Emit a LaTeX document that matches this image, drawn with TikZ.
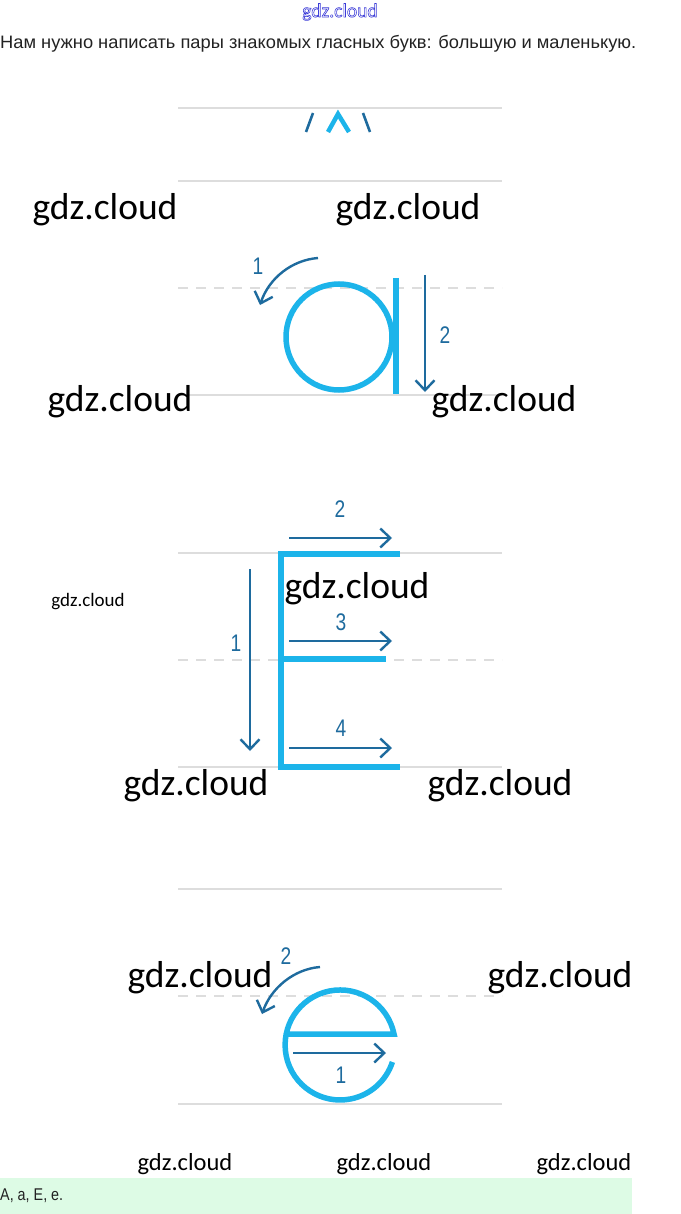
\documentclass[tikz,border=0pt]{standalone}
\usepackage{fontspec}
\setmainfont{Carlito}
\newfontfamily\labfont{Liberation Sans}
\usetikzlibrary{arrows.meta}
\definecolor{cy}{HTML}{1CB4EA}
\definecolor{db}{HTML}{1E6B9E}
\definecolor{gl}{HTML}{DDDDDD}
\definecolor{mint}{HTML}{DDFBE5}
\definecolor{txt}{HTML}{222222}
\definecolor{wmblue}{HTML}{3C3CD8}
\newcommand{\outlinetext}[1]{\special{pdf:literal direct 1 Tr 0.6 w}#1\special{pdf:literal direct 0 Tr}}
\begin{document}
\begin{tikzpicture}[x=1pt,y=-1pt,
  guide/.style={gl,line width=2.5pt},
  guidedash/.style={guide,dash pattern=on 10pt off 8pt},
  letter/.style={cy,line width=5.5pt},
  stroke/.style={db,line width=2.4pt,-{Straight Barb[length=10pt,width=19pt]}},
  plain/.style={db,line width=2.6pt},
  num/.style={db,inner sep=0pt,font=\labfont\fontsize{24}{26}\selectfont},
  wm/.style={black,inner sep=0pt,font=\fontsize{37.5}{40}\selectfont},
  wms/.style={black,inner sep=0pt,font=\fontsize{24.5}{26}\selectfont},
  wmt/.style={black,inner sep=0pt,font=\fontsize{19}{20}\selectfont},
]
\useasboundingbox[fill=white] (0,0) rectangle (680,1214);

% header
\node[inner sep=0pt,text=wmblue,font=\fontsize{19.5}{20}\selectfont] (hdr) at (340,12) {\outlinetext{gdz.cloud}};
\node[inner sep=0pt,anchor=west,text=txt,font=\labfont\fontsize{18}{20}\selectfont] (task) at (0,44)
  {\resizebox{636pt}{\height}{Нам нужно написать пары знакомых гласных букв: большую и маленькую.}};

% guide lines
\draw[guide] (178,108) -- (502,108);
\draw[guide] (178,181) -- (502,181);
\draw[guidedash] (178,288) -- (502,288);
\draw[guide] (178,395) -- (502,395);
\draw[guide] (178,553) -- (502,553);
\draw[guidedash] (178,660) -- (502,660);
\draw[guide] (178,767) -- (502,767);
\draw[guide] (178,889) -- (502,889);
\draw[guidedash] (178,996) -- (502,996);
\draw[guide] (178,1104) -- (502,1104);

% A fragment
\draw[plain] (306,132) -- (313,113);
\draw[cy,line width=4.5pt,line join=miter] (328,132) -- (338,114) -- (349,132);
\draw[plain] (363,113) -- (370,132);

% letter a
\draw[letter] (339,337) circle[radius=53];
\draw[letter] (396,278) -- (396,394);
\coordinate (a1s) at (318,258);
\coordinate (a1e) at (260,305);
\draw[stroke] (a1s) .. controls (292,260) and (269,278) .. (a1e);
\node[num] (a1n) at (258,266) {\scalebox{0.8}[1]{1}};
\coordinate (a2s) at (425,275);
\coordinate (a2e) at (425,392);
\draw[stroke] (a2s) -- (a2e);
\node[num] (a2n) at (445,335) {\scalebox{0.8}[1]{2}};

% letter E
\draw[letter,line join=miter] (400,554) -- (281,554) -- (281,767) -- (400,767);
\draw[letter] (281,659) -- (386,659);
\coordinate (E1s) at (250,569);
\coordinate (E1e) at (250,751);
\draw[stroke] (E1s) -- (E1e);
\node[num] (E1n) at (236,643) {\scalebox{0.8}[1]{1}};
\coordinate (E2s) at (289,538);
\coordinate (E2e) at (392,538);
\draw[stroke] (E2s) -- (E2e);
\node[num] (E2n) at (340,509) {\scalebox{0.8}[1]{2}};
\coordinate (E3s) at (289,641);
\coordinate (E3e) at (392,641);
\draw[stroke] (E3s) -- (E3e);
\node[num] (E3n) at (341,622) {\scalebox{0.8}[1]{3}};
\coordinate (E4s) at (289,748);
\coordinate (E4e) at (392,748);
\draw[stroke] (E4s) -- (E4e);
\node[num] (E4n) at (341,728) {\scalebox{0.8}[1]{4}};

% letter e
\draw[letter] (286,1034) -- (394,1034) arc[start angle=-11.5,end angle=-342,radius=55];
\coordinate (e1s) at (293,1053);
\coordinate (e1e) at (386,1053);
\draw[stroke] (e1s) -- (e1e);
\node[num] (e1n) at (341,1075) {\scalebox{0.8}[1]{1}};
\coordinate (e2s) at (320,967);
\coordinate (e2e) at (262,1014);
\draw[stroke] (e2s) .. controls (294,969) and (271,988) .. (e2e);
\node[num] (e2n) at (286,956) {\scalebox{0.8}[1]{2}};

% watermarks
\node[wm] (w1) at (105,210) {gdz.cloud};
\node[wm] (w2) at (408,210) {gdz.cloud};
\node[wm] (w3) at (120,402) {gdz.cloud};
\node[wm] (w4) at (504,402) {gdz.cloud};
\node[wmt] (w5) at (88,602) {gdz.cloud};
\node[wm] (w6) at (357,589) {gdz.cloud};
\node[wm] (w7) at (196,786) {gdz.cloud};
\node[wm] (w8) at (500,786) {gdz.cloud};
\node[wm] (w9) at (200,978) {gdz.cloud};
\node[wm] (w10) at (560,978) {gdz.cloud};
\node[wms] (w11) at (185,1164) {gdz.cloud};
\node[wms] (w12) at (384,1164) {gdz.cloud};
\node[wms] (w13) at (584,1164) {gdz.cloud};

% answer box
\fill[mint] (0,1178) rectangle (632,1214);
\node[inner sep=0pt,anchor=west,text=txt,font=\labfont\fontsize{17}{19}\selectfont] (ans) at (0,1196)
  {\resizebox{63pt}{\height}{А, а, Е, е.}};
\end{tikzpicture}
\end{document}
